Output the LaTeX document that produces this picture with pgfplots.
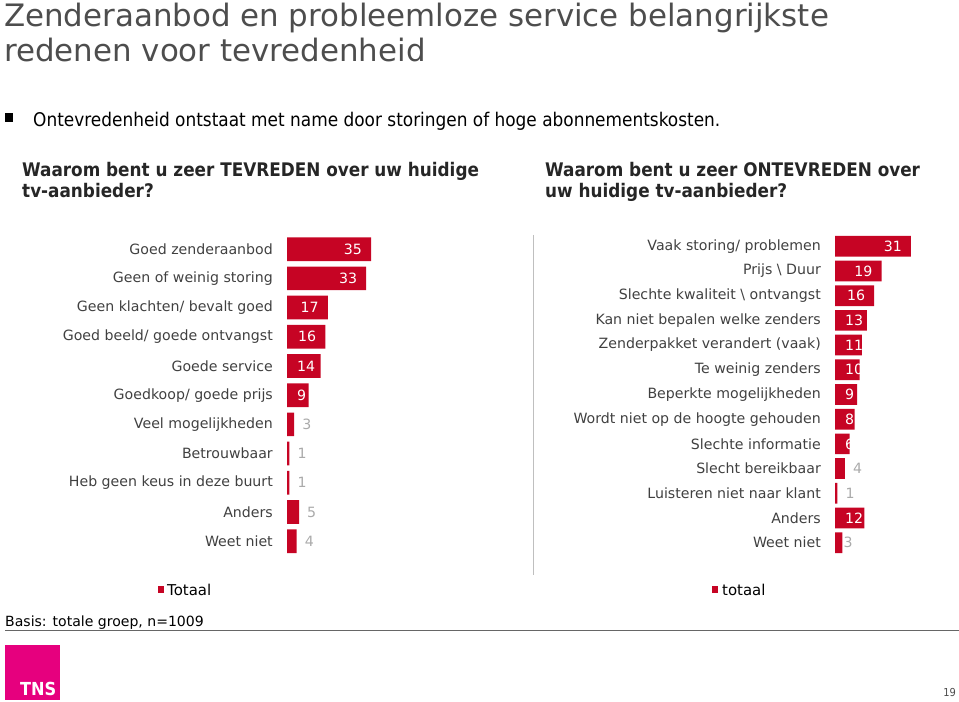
\documentclass[border=0pt]{standalone}
\usepackage{fontspec}
\setmainfont{DejaVu Sans}
\newfontfamily\tahoma{DejaVu Sans Condensed}
\usepackage{pgfplots}
\pgfplotsset{compat=1.18}
\definecolor{barred}{RGB}{198,4,36}
\definecolor{txt}{RGB}{64,64,64}
\definecolor{ttl}{RGB}{77,77,77}
\definecolor{lblgrey}{RGB}{170,170,170}
\definecolor{tnspink}{RGB}{230,0,126}
\pgfplotsset{
  chartbase/.style={
    scale only axis, anchor=north west, clip=false,
    xmin=0, xmax=40, y dir=reverse,
    axis line style={draw=none}, xtick=\empty, major tick length=0pt,
    /pgf/number format/assume math mode=true,
    yticklabel style={font=\fontsize{14.2}{16}\selectfont, text=txt, inner sep=0pt, anchor=east, xshift=-14bp},
  },
  vlab/.style={draw=none, mark=none, nodes near coords, point meta=x,
    every node near coord/.append style={font=\fontsize{14.2}{16}\selectfont, inner sep=0pt}},
}
\begin{document}
\begin{tikzpicture}[x=1bp,y=1bp]
\path[use as bounding box] (0,0) rectangle (959,702);
% title
\node[anchor=base west, inner sep=0pt, text=ttl, font=\fontsize{31}{35}\selectfont] at (4,675) {Zenderaanbod en probleemloze service belangrijkste};
\node[anchor=base west, inner sep=0pt, text=ttl, font=\fontsize{31}{35}\selectfont] at (4,640) {redenen voor tevredenheid};
% bullet
\fill[black] (5,580) rectangle (13,589);
\node[anchor=base west, inner sep=0pt, text=black, font=\tahoma\fontsize{18.9}{22}\selectfont] at (33,575) {Ontevredenheid ontstaat met name door storingen of hoge abonnementskosten.};
% subtitles
\node[anchor=base west, inner sep=0pt, text=black!85, font=\tahoma\bfseries\fontsize{18.8}{21}\selectfont] at (22,525) {Waarom bent u zeer TEVREDEN over uw huidige};
\node[anchor=base west, inner sep=0pt, text=black!85, font=\tahoma\bfseries\fontsize{18.8}{21}\selectfont] at (22,504) {tv-aanbieder?};
\node[anchor=base west, inner sep=0pt, text=black!85, font=\tahoma\bfseries\fontsize{18.8}{21}\selectfont] at (545,525) {Waarom bent u zeer ONTEVREDEN over};
\node[anchor=base west, inner sep=0pt, text=black!85, font=\tahoma\bfseries\fontsize{18.8}{21}\selectfont] at (545,504) {uw huidige tv-aanbieder?};
% separator
\draw[black!25, line width=1bp] (533,467) -- (533,127);

% left chart
\begin{axis}[chartbase, at={(287bp,467.4bp)}, width=96bp, height=321.2bp,
  ymin=-0.5, ymax=10.5, ytick={0,...,10},
  yticklabels={Goed zenderaanbod, Geen of weinig storing, Geen klachten/ bevalt goed, Goed beeld/ goede ontvangst, Goede service, Goedkoop/ goede prijs, Veel mogelijkheden, Betrouwbaar, Heb geen keus in deze buurt, Anders, Weet niet}]
\addplot[xbar, bar width=23.7bp, bar shift=0pt, fill=barred, draw=none]
  coordinates {(35,0) (33,1) (17,2) (16,3) (14,4) (9,5) (3,6) (1,7) (1,8) (5,9) (4,10)};
\addplot[vlab, every node near coord/.append style={anchor=east, text=white, xshift=-9bp}]
  coordinates {(35,0) (33,1) (17,2) (16,3)};
\addplot[vlab, point meta=explicit, every node near coord/.append style={anchor=west, text=white, xshift=10bp}]
  coordinates {(0,4) [14] (0,5) [9]};
\addplot[vlab, every node near coord/.append style={anchor=west, text=lblgrey, xshift=8bp}]
  coordinates {(3,6) (1,7) (1,8) (5,9) (4,10)};
\end{axis}

% right chart
\begin{axis}[chartbase, at={(835bp,468.05bp)}, width=98bp, height=321.1bp,
  ymin=-0.5, ymax=12.5, ytick={0,...,12},
  yticklabels={Vaak storing/ problemen, Prijs \textbackslash{} Duur, Slechte kwaliteit \textbackslash{} ontvangst, Kan niet bepalen welke zenders, Zenderpakket verandert (vaak), Te weinig zenders, Beperkte mogelijkheden, Wordt niet op de hoogte gehouden, Slechte informatie, Slecht bereikbaar, Luisteren niet naar klant, Anders, Weet niet}]
\addplot[xbar, bar width=20.7bp, bar shift=0pt, fill=barred, draw=none]
  coordinates {(31,0) (19,1) (16,2) (13,3) (11,4) (10,5) (9,6) (8,7) (6,8) (4,9) (1,10) (12,11) (3,12)};
\addplot[vlab, every node near coord/.append style={anchor=east, text=white, xshift=-9bp}]
  coordinates {(31,0) (19,1) (16,2)};
\addplot[vlab, point meta=explicit, every node near coord/.append style={anchor=west, text=white, xshift=10bp}]
  coordinates {(0,3) [13] (0,4) [11] (0,5) [10] (0,6) [9] (0,7) [8] (0,8) [6] (0,11) [12]};
\addplot[vlab, every node near coord/.append style={anchor=west, text=lblgrey, xshift=8bp}]
  coordinates {(4,9) (1,10)};
\addplot[vlab, every node near coord/.append style={anchor=west, text=lblgrey, xshift=1bp}]
  coordinates {(3,12)};
\end{axis}

% legends
\fill[barred] (158,109) rectangle (164,116);
\node[anchor=west, inner sep=0pt, text=black, font=\fontsize{15}{18}\selectfont] at (167,112.5) {Totaal};
\fill[barred] (712,109) rectangle (718,116);
\node[anchor=west, inner sep=0pt, text=black, font=\fontsize{15}{18}\selectfont] at (722,112.5) {totaal};
% basis
\node[anchor=base west, inner sep=0pt, text=black, font=\fontsize{14.1}{15}\selectfont] at (5,75) {Basis: totale groep, n=1009};
\draw[black!60, line width=1.2bp] (5,71.5) -- (959,71.5);
% logo
\fill[tnspink] (5,2) rectangle (60,57);
\node[anchor=base west, inner sep=0pt, text=white, font=\tahoma\bfseries\fontsize{18}{20}\selectfont] at (20,6) {TNS};
\node[anchor=base east, inner sep=0pt, text=black!70, font=\tahoma\fontsize{11}{13}\selectfont] at (956,5) {19};
\end{tikzpicture}
\end{document}
